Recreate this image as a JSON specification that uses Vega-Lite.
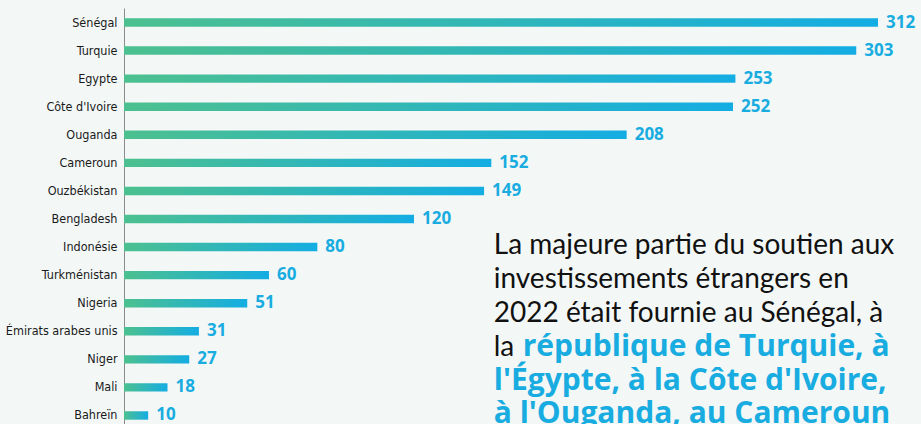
{
  "$schema": "https://vega.github.io/schema/vega-lite/v6.json",
  "width": 754,
  "height": 416,
  "autosize": {"type": "none"},
  "padding": {"left": 124, "top": 8, "right": 43, "bottom": 0},
  "background": "#F3F8F7",
  "config": {"view": {"stroke": null}},
  "layer": [
    {
      "data": {"name": "pays", "values": [
        {"pays": "Sénégal", "valeur": 312},
        {"pays": "Turquie", "valeur": 303},
        {"pays": "Egypte", "valeur": 253},
        {"pays": "Côte d'Ivoire", "valeur": 252},
        {"pays": "Ouganda", "valeur": 208},
        {"pays": "Cameroun", "valeur": 152},
        {"pays": "Ouzbékistan", "valeur": 149},
        {"pays": "Bengladesh", "valeur": 120},
        {"pays": "Indonésie", "valeur": 80},
        {"pays": "Turkménistan", "valeur": 60},
        {"pays": "Nigeria", "valeur": 51},
        {"pays": "Émirats arabes unis", "valeur": 31},
        {"pays": "Niger", "valeur": 27},
        {"pays": "Mali", "valeur": 18},
        {"pays": "Bahreïn", "valeur": 10}
      ]},
      "layer": [
        {
          "mark": {"type": "bar", "fill": {"gradient": "linear", "x1": 0, "x2": 1, "y1": 0, "y2": 0, "stops": [{"offset": 0, "color": "#4CC08F"}, {"offset": 1, "color": "#14ADE3"}]}},
          "encoding": {
            "y": {"field": "pays", "type": "nominal", "sort": null,
              "scale": {"paddingInner": 0.7, "paddingOuter": 0.26, "align": 0.705},
              "axis": {"title": null, "ticks": false, "domainColor": "#8C8C8C", "domainWidth": 1, "labelFont": "DejaVu Sans Condensed", "labelFontSize": 12.5, "labelColor": "#1A1A1A", "labelPadding": 7}},
            "x": {"field": "valeur", "type": "quantitative", "scale": {"domain": [0, 312], "nice": false}, "axis": null}
          }
        },
        {
          "mark": {"type": "text", "align": "left", "baseline": "middle", "dx": 8, "font": "Open Sans", "fontWeight": "bold", "fontSize": 17, "color": "#19ACE0"},
          "encoding": {
            "y": {"field": "pays", "type": "nominal", "sort": null},
            "x": {"field": "valeur", "type": "quantitative"},
            "text": {"field": "valeur", "type": "quantitative"}
          }
        }
      ]
    },
    {
      "data": {"values": [{"txt": "La majeure partie du soutien aux\ninvestissements étrangers en\n2022 était fournie au Sénégal, à\nla"}]},
      "mark": {"type": "text", "align": "left", "baseline": "alphabetic", "lineBreak": "\n", "lineHeight": 34, "dy": 7, "font": "Lato", "fontSize": 28, "color": "#111111"},
      "encoding": {"x": {"datum": 153}, "y": {"datum": "Indonésie"}, "text": {"field": "txt"}}
    },
    {
      "data": {"values": [{"txt": "république de Turquie, à"}]},
      "mark": {"type": "text", "align": "left", "baseline": "alphabetic", "dx": 29, "dy": 109, "font": "Open Sans", "fontWeight": "bold", "fontSize": 30, "color": "#19ACE0"},
      "encoding": {"x": {"datum": 153}, "y": {"datum": "Indonésie"}, "text": {"field": "txt"}}
    },
    {
      "data": {"values": [{"txt": "l'Égypte, à la Côte d'Ivoire,\nà l'Ouganda, au Cameroun"}]},
      "mark": {"type": "text", "align": "left", "baseline": "alphabetic", "lineBreak": "\n", "lineHeight": 33, "dy": 143, "font": "Open Sans", "fontWeight": "bold", "fontSize": 30, "color": "#19ACE0"},
      "encoding": {"x": {"datum": 153}, "y": {"datum": "Indonésie"}, "text": {"field": "txt"}}
    }
  ]
}
